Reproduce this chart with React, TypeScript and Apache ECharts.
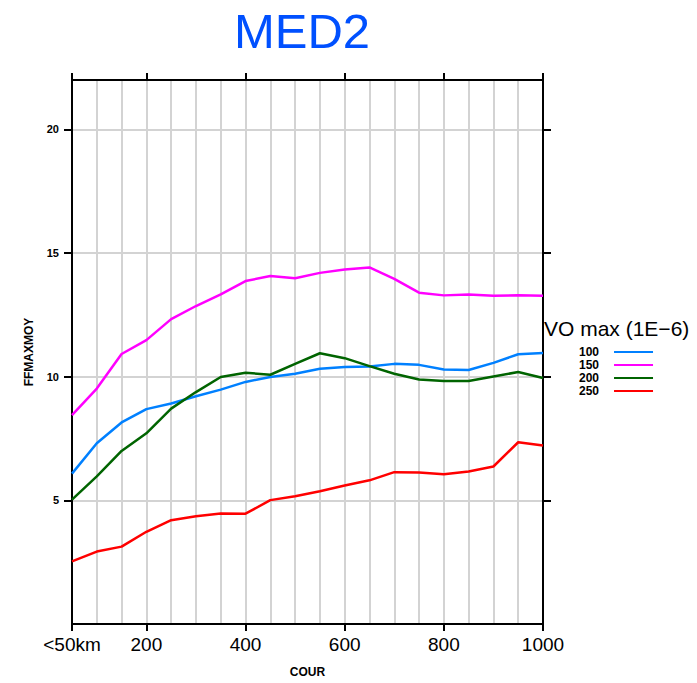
import React, { useEffect, useRef } from "react";
import * as echarts from "echarts";

const xValues = [50, 100, 150, 200, 250, 300, 350, 400, 450, 500, 550, 600, 650, 700, 750, 800, 850, 900, 950, 1000];
const seriesNames = ["100", "150", "200", "250"];
const s100 = [6.08, 7.31, 8.15, 8.69, 8.92, 9.21, 9.48, 9.79, 9.99, 10.12, 10.32, 10.39, 10.41, 10.52, 10.48, 10.29, 10.27, 10.56, 10.91, 10.96];
const s150 = [8.45, 9.52, 10.92, 11.48, 12.33, 12.86, 13.33, 13.87, 14.07, 13.98, 14.2, 14.34, 14.42, 13.96, 13.4, 13.29, 13.33, 13.27, 13.29, 13.27];
const s200 = [5.03, 5.97, 7.0, 7.71, 8.71, 9.38, 9.99, 10.16, 10.08, 10.52, 10.95, 10.75, 10.43, 10.12, 9.89, 9.83, 9.83, 10.01, 10.19, 9.95];
const s250 = [2.53, 2.93, 3.13, 3.73, 4.2, 4.36, 4.47, 4.46, 5.01, 5.17, 5.37, 5.6, 5.81, 6.14, 6.13, 6.06, 6.17, 6.37, 7.35, 7.22];
const colors = ["#0080ff", "#ff00ff", "#006400", "#ff0000"];
const xTickValues = [50, 200, 400, 600, 800, 1000];
const yTickValues = [5, 10, 15, 20];

const FONT = "Liberation Sans, Arial, sans-serif";

export default function App() {
  const ref = useRef<HTMLDivElement>(null);
  useEffect(() => {
    if (!ref.current) return;
    const chart = echarts.init(ref.current, undefined, { renderer: "svg" });
    const allSeries = [s100, s150, s200, s250];
    const grid = { left: 72, right: 154, top: 80, bottom: 56 };
    const axisLine = { show: true, lineStyle: { color: "#000", width: 2 } };
    chart.setOption({
      animation: false,
      backgroundColor: "#fff",
      textStyle: { fontFamily: FONT },
      title: {
        text: "MED2",
        left: 297,
        textAlign: "center",
        top: 1,
        textStyle: { color: "#0050ff", fontSize: 49, fontWeight: "normal", fontFamily: FONT },
      },
      grid,
      legend: {
        data: seriesNames,
        orient: "vertical",
        left: 574,
        top: 341,
        align: "right",
        icon: "rect",
        itemWidth: 39,
        itemHeight: 2,
        itemGap: 1,
        textStyle: { fontSize: 12, fontWeight: "bold", color: "#000", lineHeight: 12, padding: [0, 10, 0, 0], fontFamily: FONT },
      },
      graphic: [
        {
          type: "text",
          left: 544,
          top: 318,
          style: { text: "VO max (1E\u22126)", font: "21px Liberation Sans, Arial, sans-serif", fill: "#000" },
        },
      ],
      xAxis: [
        {
          type: "value",
          min: 50,
          max: 1000,
          interval: 50,
          position: "bottom",
          axisLine,
          axisTick: { show: false },
          axisLabel: { show: false },
          splitLine: { show: true, lineStyle: { color: "#d3d3d3", width: 2 } },
          name: "COUR",
          nameLocation: "middle",
          nameGap: 42,
          nameTextStyle: { fontSize: 12, fontWeight: "bold", color: "#000", fontFamily: FONT },
        },
        {
          type: "value",
          min: 50,
          max: 1000,
          position: "bottom",
          axisLine: { show: false },
          axisTick: { show: true, customValues: xTickValues, length: 7, lineStyle: { color: "#000", width: 2 } },
          axisLabel: {
            show: true,
            customValues: xTickValues,
            fontSize: 19,
            color: "#000",
            margin: 11,
            fontFamily: FONT,
            formatter: (v: number) => (v === 50 ? "<50km" : String(v)),
          },
          splitLine: { show: false },
        },
        {
          type: "value",
          min: 50,
          max: 1000,
          position: "top",
          axisLine,
          axisTick: { show: true, customValues: xTickValues, length: 7, lineStyle: { color: "#000", width: 2 } },
          axisLabel: { show: false },
          splitLine: { show: false },
        },
      ],
      yAxis: [
        {
          type: "value",
          min: 0,
          max: 22,
          interval: 5,
          position: "left",
          axisLine,
          axisTick: { show: true, customValues: yTickValues, length: 8, lineStyle: { color: "#000", width: 2 } },
          axisLabel: { show: true, customValues: yTickValues, fontSize: 11, fontWeight: "bold", color: "#000", margin: 13, fontFamily: FONT },
          splitLine: { show: true, lineStyle: { color: "#d3d3d3", width: 2 } },
          name: "FFMAXMOY",
          nameLocation: "middle",
          nameGap: 37,
          nameRotate: 90,
          nameTextStyle: { fontSize: 12, fontWeight: "bold", color: "#000", fontFamily: FONT },
        },
        {
          type: "value",
          min: 0,
          max: 22,
          interval: 5,
          position: "right",
          axisLine,
          axisTick: { show: true, customValues: yTickValues, length: 8, lineStyle: { color: "#000", width: 2 } },
          axisLabel: { show: false },
          splitLine: { show: false },
        },
      ],
      series: seriesNames.map((name, i) => ({
        name,
        type: "line",
        xAxisIndex: 0,
        yAxisIndex: 0,
        data: xValues.map((x, j) => [x, allSeries[i][j]]),
        showSymbol: false,
        symbol: "none",
        lineStyle: { color: colors[i], width: 2.5 },
        itemStyle: { color: colors[i] },
      })),
    });
    return () => chart.dispose();
  }, []);
  return <div ref={ref} style={{ width: 697, height: 683, position: "absolute", left: 0, top: 0 }} />;
}
